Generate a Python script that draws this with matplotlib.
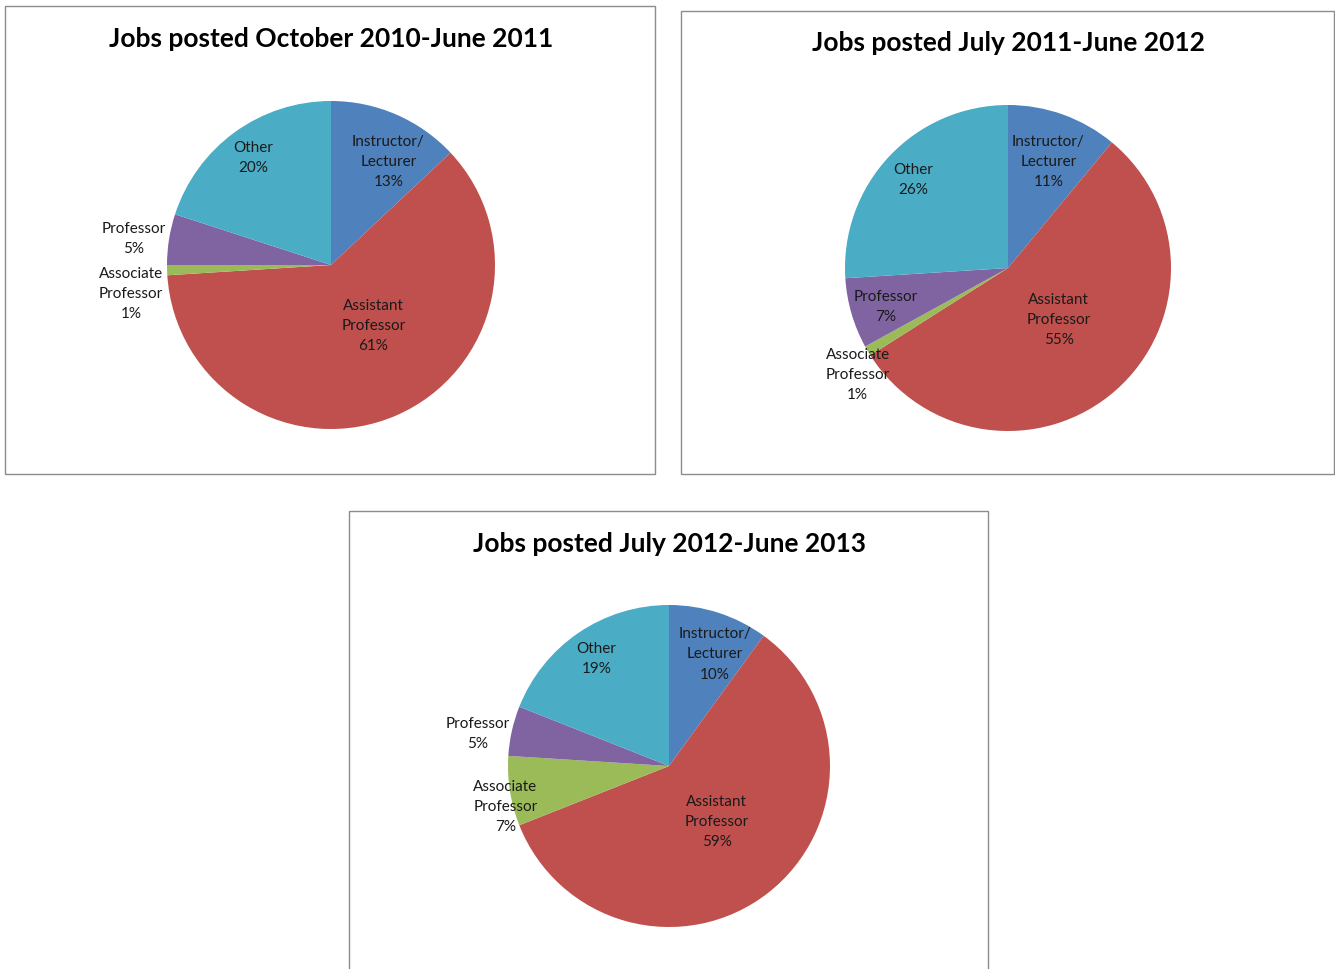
import numpy as np
import matplotlib as mpl
mpl.use('Agg')
import matplotlib.pyplot as plt
from matplotlib.patches import Rectangle

categories = ["Instructor/\nLecturer", "Assistant\nProfessor",
              "Associate\nProfessor", "Professor", "Other"]
titles = ["Jobs posted October 2010-June 2011",
          "Jobs posted July 2011-June 2012",
          "Jobs posted July 2012-June 2013"]
shares_2010_11 = [13, 61, 1, 5, 20]
shares_2011_12 = [11, 55, 1, 7, 26]
shares_2012_13 = [10, 59, 7, 5, 19]

colors = ["#4F81BD", "#C0504D", "#9BBB59", "#8064A2", "#4BACC6"]

W, H = 1335, 969
plt.rcParams['font.family'] = ['Lato', 'DejaVu Sans']

fig = plt.figure(figsize=(W / 100, H / 100), dpi=100)

# layout in pixels: frame box, pie centre, radius, title y;
# label radius and (dx, dy) nudge in radius units
panels = [
    dict(box=(5, 6, 650, 468), c=(331, 265), r=164, ty=39,
         lr=[0.73, 0.45, 1.24, 1.22, 0.81],
         nudge=[(0.06, -0.04), (0.08, 0.04), (0.02, -0.14), (0, -0.03), (0, 0)]),
    dict(box=(681, 11, 653, 463), c=(1008, 268), r=163, ty=43,
         lr=[0.70, 0.44, 1.13, 0.78, 0.80],
         nudge=[(0.01, -0.01), (0.02, 0.01), (0.05, -0.08), (0, -0.02), (0, -0.01)]),
    dict(box=(349, 511, 639, 470), c=(669, 766), r=161, ty=544,
         lr=[0.76, 0.45, 1.05, 1.22, 0.80],
         nudge=[(0.05, -0.03), (0.02, 0.01), (0.02, -0.09), (0, -0.07), (0, 0)]),
]
data = [shares_2010_11, shares_2011_12, shares_2012_13]

for p, vals, title in zip(panels, data, titles):
    bx, by, bw, bh = p['box']
    fig.patches.append(Rectangle((bx / W, 1 - (by + bh) / H), bw / W, bh / H,
                                 transform=fig.transFigure, fill=False,
                                 edgecolor="#8c8c8c", linewidth=1.0))
    fig.text(p['c'][0] / W, 1 - p['ty'] / H, title, ha='center', va='center',
             fontsize=19, fontweight='bold')

    cx, cy = p['c']
    r = p['r']
    ax = fig.add_axes([(cx - r) / W, 1 - (cy + r) / H, 2 * r / W, 2 * r / H])
    wedges, _ = ax.pie(vals, colors=colors, startangle=90, counterclock=False,
                       wedgeprops=dict(linewidth=0))
    ax.set_xlim(-1, 1)
    ax.set_ylim(-1, 1)
    ax.set_aspect('equal')

    for w, cat, v, lr, (dx, dy) in zip(wedges, categories, vals, p['lr'], p['nudge']):
        mid = np.deg2rad((w.theta1 + w.theta2) / 2)
        x = lr * np.cos(mid) + dx
        y = lr * np.sin(mid) + dy
        ax.text(x, y, "%s\n%d%%" % (cat, v), ha='center', va='center',
                fontsize=11, linespacing=1.55, color='#1a1a1a', clip_on=False)

plt.savefig("out.png", dpi=100)
